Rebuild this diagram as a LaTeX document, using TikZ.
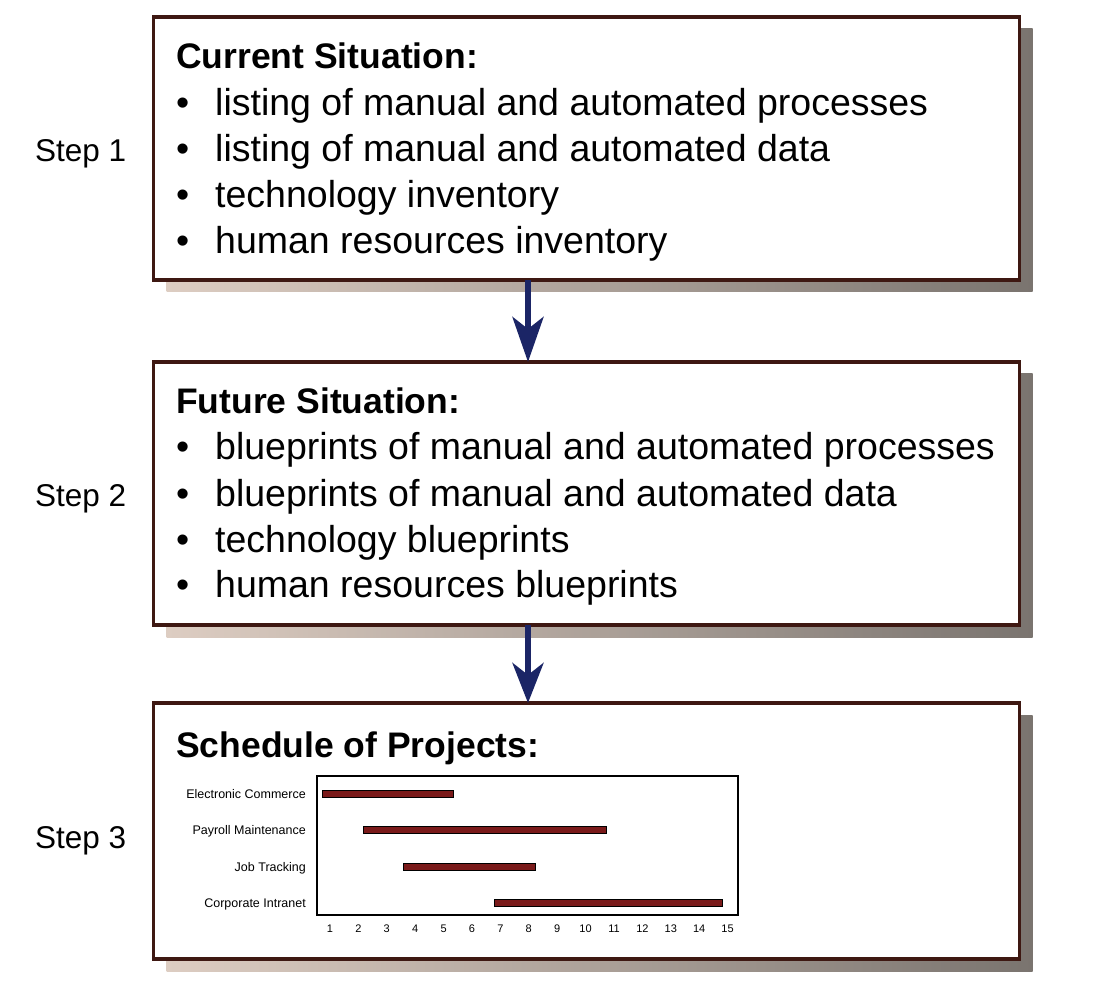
\documentclass[tikz,border=0pt]{standalone}
\usepackage{fontspec}
\setmainfont{Liberation Sans}
\usetikzlibrary{arrows.meta,calc,backgrounds}
\definecolor{boxline}{HTML}{3E1812}
\definecolor{navy}{HTML}{1B2566}
\definecolor{shadeL}{HTML}{DDCDC2}
\definecolor{shadeR}{HTML}{7A746F}
\definecolor{barred}{HTML}{7A1A1A}
\tikzset{
  box/.style={draw=boxline, line width=3.5pt, fill=white, inner sep=0pt, outer sep=0pt, minimum width=866pt},
  hd/.style={anchor=base west, inner sep=0pt, font=\fontsize{35.5}{40}\selectfont\bfseries},
  bl/.style={anchor=base west, inner sep=0pt, font=\fontsize{37.5}{44}\selectfont},
  steplbl/.style={anchor=base west, inner sep=0pt, font=\fontsize{31.5}{36}\selectfont},
  arr/.style={draw=navy, line width=6pt, -{Stealth[length=#1, width=31pt, inset=12pt, fill=navy]}},
  gl/.style={anchor=base east, inner sep=0pt, font=\fontsize{12.5}{14}\selectfont},
  num/.style={anchor=base, inner sep=0pt, font=\fontsize{11}{13}\selectfont},
  bar/.style={draw=black, line width=0.8pt, fill=barred},
  shadow/.style={left color=shadeL, right color=shadeR, draw=none}
}
\begin{document}
\begin{tikzpicture}[x=1pt, y=-1pt]
\useasboundingbox (0,0) rectangle (1096,992);

% boxes
\node[box, minimum height=263pt] (b1) at (586.5,148.5) {};
\node[box, minimum height=263pt] (b2) at (586.5,493.5) {};
\node[box, minimum height=256pt] (b3) at (586.5,831) {};

\begin{pgfonlayer}{background}
\foreach \b in {b1,b2,b3}{
  \path[shadow] ($(\b.north west)+(13,12)$) rectangle ($(\b.south east)+(13,12)$);
}
\end{pgfonlayer}

% step labels
\node[steplbl] (s1) at (35,162) {Step 1};
\node[steplbl] (s2) at (35,506) {Step 2};
\node[steplbl] (s3) at (35,848) {Step 3};

% box 1 text
\node[hd] (h1) at (176,69) {Current Situation:};
\node[bl] (d11) at (176,116) {•};
\node[bl] (t11) at (215,116) {listing of manual and automated processes};
\node[bl] (d12) at (176,162) {•};
\node[bl] (t12) at (215,162) {listing of manual and automated data};
\node[bl] (d13) at (176,208) {•};
\node[bl] (t13) at (215,208) {technology inventory};
\node[bl] (d14) at (176,254) {•};
\node[bl] (t14) at (215,254) {human resources inventory};

% box 2 text
\node[hd] (h2) at (176,414) {Future Situation:};
\node[bl] (d21) at (176,460) {•};
\node[bl] (t21) at (215,460) {blueprints of manual and automated processes};
\node[bl] (d22) at (176,506) {•};
\node[bl] (t22) at (215,506) {blueprints of manual and automated data};
\node[bl] (d23) at (176,552) {•};
\node[bl] (t23) at (215,552) {technology blueprints};
\node[bl] (d24) at (176,597) {•};
\node[bl] (t24) at (215,597) {human resources blueprints};

% box 3 text
\node[hd] (h3) at (176,757) {Schedule of Projects:};

% gantt chart
\node[draw=black, line width=2pt, fill=white, inner sep=0pt, minimum width=421pt, minimum height=139pt] (gf) at (527.5,845) {};
\draw[bar] (322,790.5) rectangle (453,797.5);
\draw[bar] (363,826.5) rectangle (606,833.5);
\draw[bar] (403,863.5) rectangle (535,870.5);
\draw[bar] (494,899.5) rectangle (722,906.5);
\node[gl] (g1) at (306,798) {Electronic Commerce};
\node[gl] (g2) at (306,834) {Payroll Maintenance};
\node[gl] (g3) at (306,871) {Job Tracking};
\node[gl] (g4) at (306,907) {Corporate Intranet};
\foreach \k in {1,...,15}{
  \node[num] (n\k) at ({330+28.4*(\k-1)},932) {\k};
}

% arrows
\draw[arr=45pt] ([xshift=-58.5pt]b1.south) -- ([xshift=-58.5pt]b2.north);
\draw[arr=40pt] ([xshift=-58.5pt]b2.south) -- ([xshift=-58.5pt]b3.north);
\end{tikzpicture}
\end{document}
